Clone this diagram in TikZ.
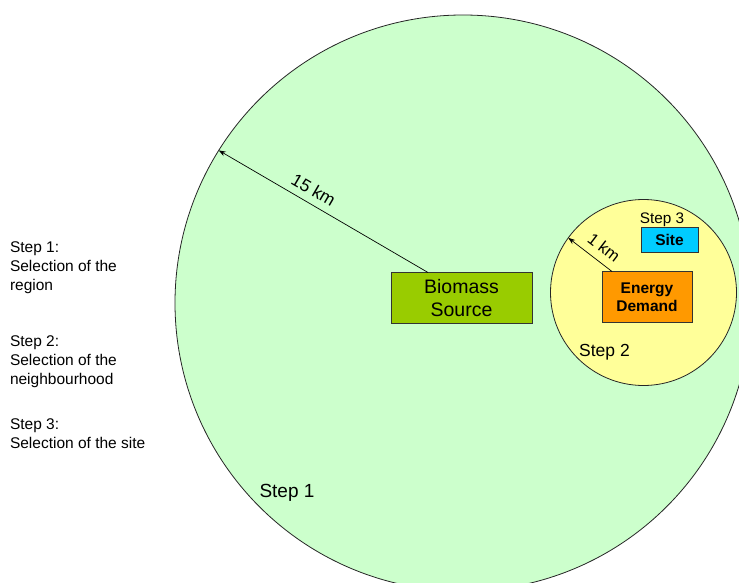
\documentclass[tikz,border=0pt]{standalone}
\usepackage{fontspec}
\setmainfont{Liberation Sans}
\usetikzlibrary{arrows.meta,calc}
\definecolor{lgreen}{HTML}{CCFFCC}
\definecolor{lyellow}{HTML}{FFFF99}
\definecolor{bgreen}{HTML}{99CC00}
\definecolor{dorange}{HTML}{FF9900}
\definecolor{dcyan}{HTML}{00CCFF}
\begin{document}
\begin{tikzpicture}[x=1pt,y=1pt,
  ring/.style={circle,draw=black!85,line width=0.8pt,inner sep=0pt,outer sep=0pt},
  box/.style={rectangle,draw=black!80,line width=0.7pt,inner sep=0pt,outer sep=0pt,align=center},
  dim/.style={{Stealth[length=7pt,width=5pt]}-,line width=0.7pt},
  lbl/.style={inner sep=0pt,outer sep=0pt},
  side/.style={inner sep=0pt,outer sep=0pt,anchor=base west,font=\fontsize{15.5}{19}\selectfont}
]
\useasboundingbox (0,0) rectangle (739,-583);
\node[ring,fill=lgreen,minimum size=576pt] (big) at (463,-303) {};
\node[ring,fill=lyellow,minimum size=186pt] (small) at (643.5,-292.5) {};
\node[box,fill=bgreen,minimum width=141pt,minimum height=51pt,font=\fontsize{19.5}{23.5}\selectfont] (bio) at (461.5,-298) {Biomass\\Source};
\node[box,fill=dorange,minimum width=90pt,minimum height=51pt,font=\bfseries\fontsize{15.5}{18.5}\selectfont] (ed) at (647,-297) {Energy\\Demand};
\node[box,fill=dcyan,minimum width=57pt,minimum height=25pt,font=\bfseries\fontsize{15.5}{18}\selectfont] (site) at (669.5,-239.5) {Site};
\coordinate (bs) at ([xshift=37pt]bio.north west);
\coordinate (es) at ([xshift=10pt]ed.north west);
\draw[dim] (big.148) -- node[sloped,above=6pt,pos=0.42,inner sep=1pt,font=\fontsize{17.5}{20}\selectfont] (l15) {15 km} (bs);
\draw[dim] (small.144) -- node[sloped,above=7pt,pos=0.62,inner sep=1pt,font=\fontsize{16.5}{20}\selectfont] (l1) {1 km} (es);
\node[lbl,font=\fontsize{15.3}{18}\selectfont] (s3) at (662,-220) {Step 3};
\node[lbl,font=\fontsize{17.5}{20}\selectfont] (s2) at (604.5,-352) {Step 2};
\node[lbl,font=\fontsize{19}{22}\selectfont] (s1) at (287,-493) {Step 1};
\node[side] (t1) at (10,-252.7) {Step 1:};
\node[side] (t2) at (10,-271.7) {Selection of the};
\node[side] (t3) at (10,-290.5) {region};
\node[side] (t4) at (10,-346.7) {Step 2:};
\node[side] (t5) at (10,-365.7) {Selection of the};
\node[side] (t6) at (10,-384.5) {neighbourhood};
\node[side] (t7) at (10,-429.3) {Step 3:};
\node[side] (t8) at (10,-448.3) {Selection of the site};
\end{tikzpicture}
\end{document}
